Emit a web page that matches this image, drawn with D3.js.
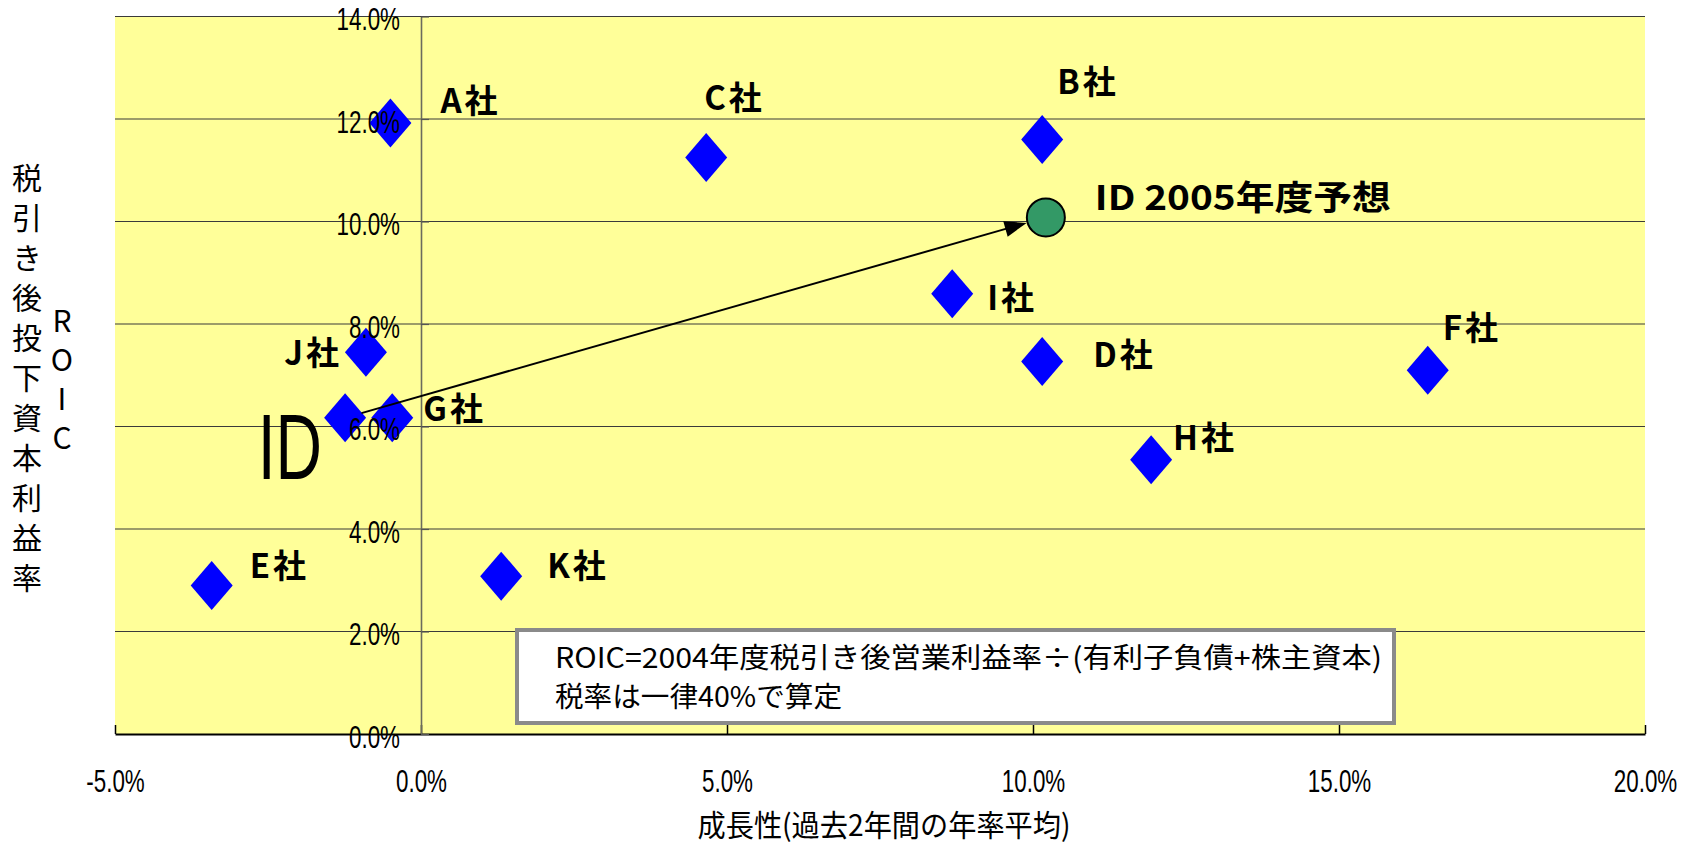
<!DOCTYPE html>
<html>
<head>
<meta charset="utf-8">
<script src="https://cdn.jsdelivr.net/npm/d3@7"></script>
<style>
  html, body { margin: 0; padding: 0; background: #fff; }
  svg { display: block; }
</style>
</head>
<body>
<svg id="chart" width="1696" height="847"></svg>
<script>
// Peer companies: growth (2-year average, %) vs after-tax ROIC (%)
const companies = ["A社", "B社", "C社", "D社", "E社", "F社", "G社", "H社", "I社", "J社", "K社"];
const growth    = [-0.50, 10.15, 4.66, 10.15, -3.42, 16.45, -0.47, 11.93, 8.68, -0.90, 1.31];
const roic      = [11.92, 11.60, 11.25, 7.27, 2.90, 7.10, 6.17, 5.35, 8.59, 7.45, 3.08];

// ID today and the 2005 forecast
const idLabels = ["ID", "ID 2005年度予想"];
const idGrowth = [-1.24, 10.21];
const idRoic   = [6.17, 10.08];

const xTicks = [-5, 0, 5, 10, 15, 20];
const yTicks = [0, 2, 4, 6, 8, 10, 12, 14];

const xTitle = "成長性(過去2年間の年率平均)";
const yTitle = "税引き後投下資本利益率";
const yTitle2 = "ROIC";
const noteLines = ["ROIC=2004年度税引き後営業利益率÷(有利子負債+株主資本)", "税率は一律40%で算定"];

// label placement relative to each marker (px): [dx, dy, anchor]
const labelOffsets = [[50, -22], [15, -58], [-2, -59], [51, -6], [38, -19], [15, -42],
                      [31, -9], [22, -22], [35, 4], [-24, 1, "end"], [46, -10]];

const svg = d3.select("#chart");
const x = d3.scaleLinear().domain([-5, 20]).range([115, 1645]);
const y = d3.scaleLinear().domain([0, 14]).range([734, 16.5]);
const fmt = d => d.toFixed(1) + "%";
const numFont = "'Liberation Sans', Arial, sans-serif";
const jpFont = "'Noto Sans CJK JP', 'Noto Sans CJK SC', sans-serif";
const narrow = 0.7;

// plot background
svg.append("rect")
  .attr("x", x(-5)).attr("y", y(14))
  .attr("width", x(20) - x(-5)).attr("height", y(0) - y(14))
  .attr("fill", "#FFFF99");

// horizontal gridlines
svg.append("g").selectAll("line")
  .data(yTicks.filter(d => d > 0))
  .join("line")
  .attr("x1", x(-5)).attr("x2", x(20))
  .attr("y1", d => y(d)).attr("y2", d => y(d))
  .attr("stroke", "#3a3a3a").attr("stroke-width", 1.2);

// note box
const box = svg.append("g");
box.append("rect")
  .attr("x", 517).attr("y", 630).attr("width", 877).attr("height", 93)
  .attr("fill", "#fff").attr("stroke", "#8a8a8a").attr("stroke-width", 4);
box.selectAll("text")
  .data(noteLines)
  .join("text")
  .attr("x", 555)
  .attr("y", (d, i) => 668 + i * 39)
  .attr("textLength", (d, i) => i === 0 ? 827 : 287)
  .attr("lengthAdjust", "spacingAndGlyphs")
  .attr("font-family", jpFont).attr("font-size", 28)
  .attr("fill", "#000")
  .text(d => d);

// x axis along 0%
const xAxis = d3.axisBottom(x).tickValues(xTicks).tickFormat(fmt)
  .tickSizeInner(-9).tickSizeOuter(0).tickPadding(35);
const gx = svg.append("g").attr("transform", `translate(0,${y(0)})`).call(xAxis);
gx.select(".domain").attr("stroke", "#000").attr("stroke-width", 2);
gx.selectAll(".tick line").attr("stroke", "#000").attr("stroke-width", 1.5);
gx.selectAll(".tick text")
  .attr("font-family", numFont).attr("font-size", 32).attr("fill", "#000")
  .attr("transform", `scale(${narrow},1)`);

// markers
const diamondPath = (cx, cy) => {
  const p = d3.path();
  p.moveTo(cx, cy - 24.5); p.lineTo(cx + 21, cy); p.lineTo(cx, cy + 24.5); p.lineTo(cx - 21, cy); p.closePath();
  return p.toString();
};
const pointIdx = companies.map((c, i) => i);
svg.append("g").selectAll("path")
  .data(pointIdx)
  .join("path")
  .attr("d", i => diamondPath(x(growth[i]), y(roic[i])))
  .attr("fill", "#0000FF");
svg.append("path")
  .attr("d", diamondPath(x(idGrowth[0]), y(idRoic[0])))
  .attr("fill", "#0000FF");

// y axis at 0% growth
const yAxis = d3.axisLeft(y).tickValues(yTicks).tickFormat(fmt)
  .tickSizeInner(-8).tickSizeOuter(0).tickPadding(21);
const gy = svg.append("g").attr("transform", `translate(${x(0)},0)`).call(yAxis);
gy.select(".domain").attr("stroke", "#6b6b5e").attr("stroke-width", 1.6);
gy.selectAll(".tick line").attr("stroke", "#555").attr("stroke-width", 1.2);
gy.selectAll(".tick text")
  .attr("font-family", numFont).attr("font-size", 32).attr("fill", "#000")
  .attr("x", -21 / narrow).attr("dy", "0.42em")
  .attr("transform", `scale(${narrow},1)`);

// arrow from ID today to the 2005 forecast
const p0 = [x(idGrowth[0]), y(idRoic[0])];
const p1 = [x(idGrowth[1]), y(idRoic[1])];
const len = Math.hypot(p1[0] - p0[0], p1[1] - p0[1]);
const ux = (p1[0] - p0[0]) / len, uy = (p1[1] - p0[1]) / len;
const start = [p0[0] + ux * 17, p0[1] + uy * 17];
const tip = [p1[0] - ux * 20, p1[1] - uy * 20];
const headLen = 22, headHalf = 8;
svg.append("line")
  .attr("x1", start[0]).attr("y1", start[1])
  .attr("x2", tip[0] - ux * (headLen - 2)).attr("y2", tip[1] - uy * (headLen - 2))
  .attr("stroke", "#000").attr("stroke-width", 2);
svg.append("path")
  .attr("d", d3.line()([
    tip,
    [tip[0] - ux * headLen - uy * headHalf, tip[1] - uy * headLen + ux * headHalf],
    [tip[0] - ux * headLen + uy * headHalf, tip[1] - uy * headLen - ux * headHalf]
  ]) + "Z")
  .attr("fill", "#000");

// forecast marker
svg.append("circle")
  .attr("cx", p1[0]).attr("cy", p1[1]).attr("r", 19)
  .attr("fill", "#339966").attr("stroke", "#000").attr("stroke-width", 2);

// company labels
svg.append("g").selectAll("text")
  .data(pointIdx)
  .join("text")
  .attr("x", i => x(growth[i]) + labelOffsets[i][0])
  .attr("y", i => y(roic[i]) + labelOffsets[i][1] + 12)
  .attr("text-anchor", i => labelOffsets[i][2] || "start")
  .attr("font-family", jpFont).attr("font-weight", 700).attr("font-size", 33)
  .attr("letter-spacing", 3)
  .attr("fill", "#000")
  .text(i => companies[i]);

// ID labels
svg.append("text")
  .attr("transform", `translate(${p0[0] - 23},${p0[1] + 61}) scale(${narrow},1)`)
  .attr("text-anchor", "end")
  .attr("font-family", numFont).attr("font-size", 92).attr("fill", "#000")
  .text(idLabels[0]);
svg.append("text")
  .attr("x", p1[0] + 49).attr("y", p1[1] - 19 + 12)
  .attr("textLength", 296).attr("lengthAdjust", "spacingAndGlyphs")
  .attr("font-family", jpFont).attr("font-weight", 700).attr("font-size", 34)
  .attr("fill", "#000")
  .text(idLabels[1]);

// axis titles
svg.append("text")
  .attr("x", 884).attr("y", 836)
  .attr("text-anchor", "middle")
  .attr("textLength", 373).attr("lengthAdjust", "spacingAndGlyphs")
  .attr("font-family", jpFont).attr("font-size", 30).attr("fill", "#000")
  .text(xTitle);

// vertical y titles, set in upright vertical writing
svg.append("text")
  .attr("x", 27).attr("y", 163)
  .attr("writing-mode", "vertical-rl")
  .style("text-orientation", "upright")
  .attr("letter-spacing", 10)
  .attr("font-family", jpFont).attr("font-size", 30).attr("fill", "#000")
  .text(yTitle);

svg.append("text")
  .attr("x", 62).attr("y", 306)
  .attr("writing-mode", "vertical-rl")
  .style("text-orientation", "upright")
  .attr("letter-spacing", 9)
  .attr("font-family", jpFont).attr("font-size", 30).attr("fill", "#000")
  .text(yTitle2);
</script>
</body>
</html>
